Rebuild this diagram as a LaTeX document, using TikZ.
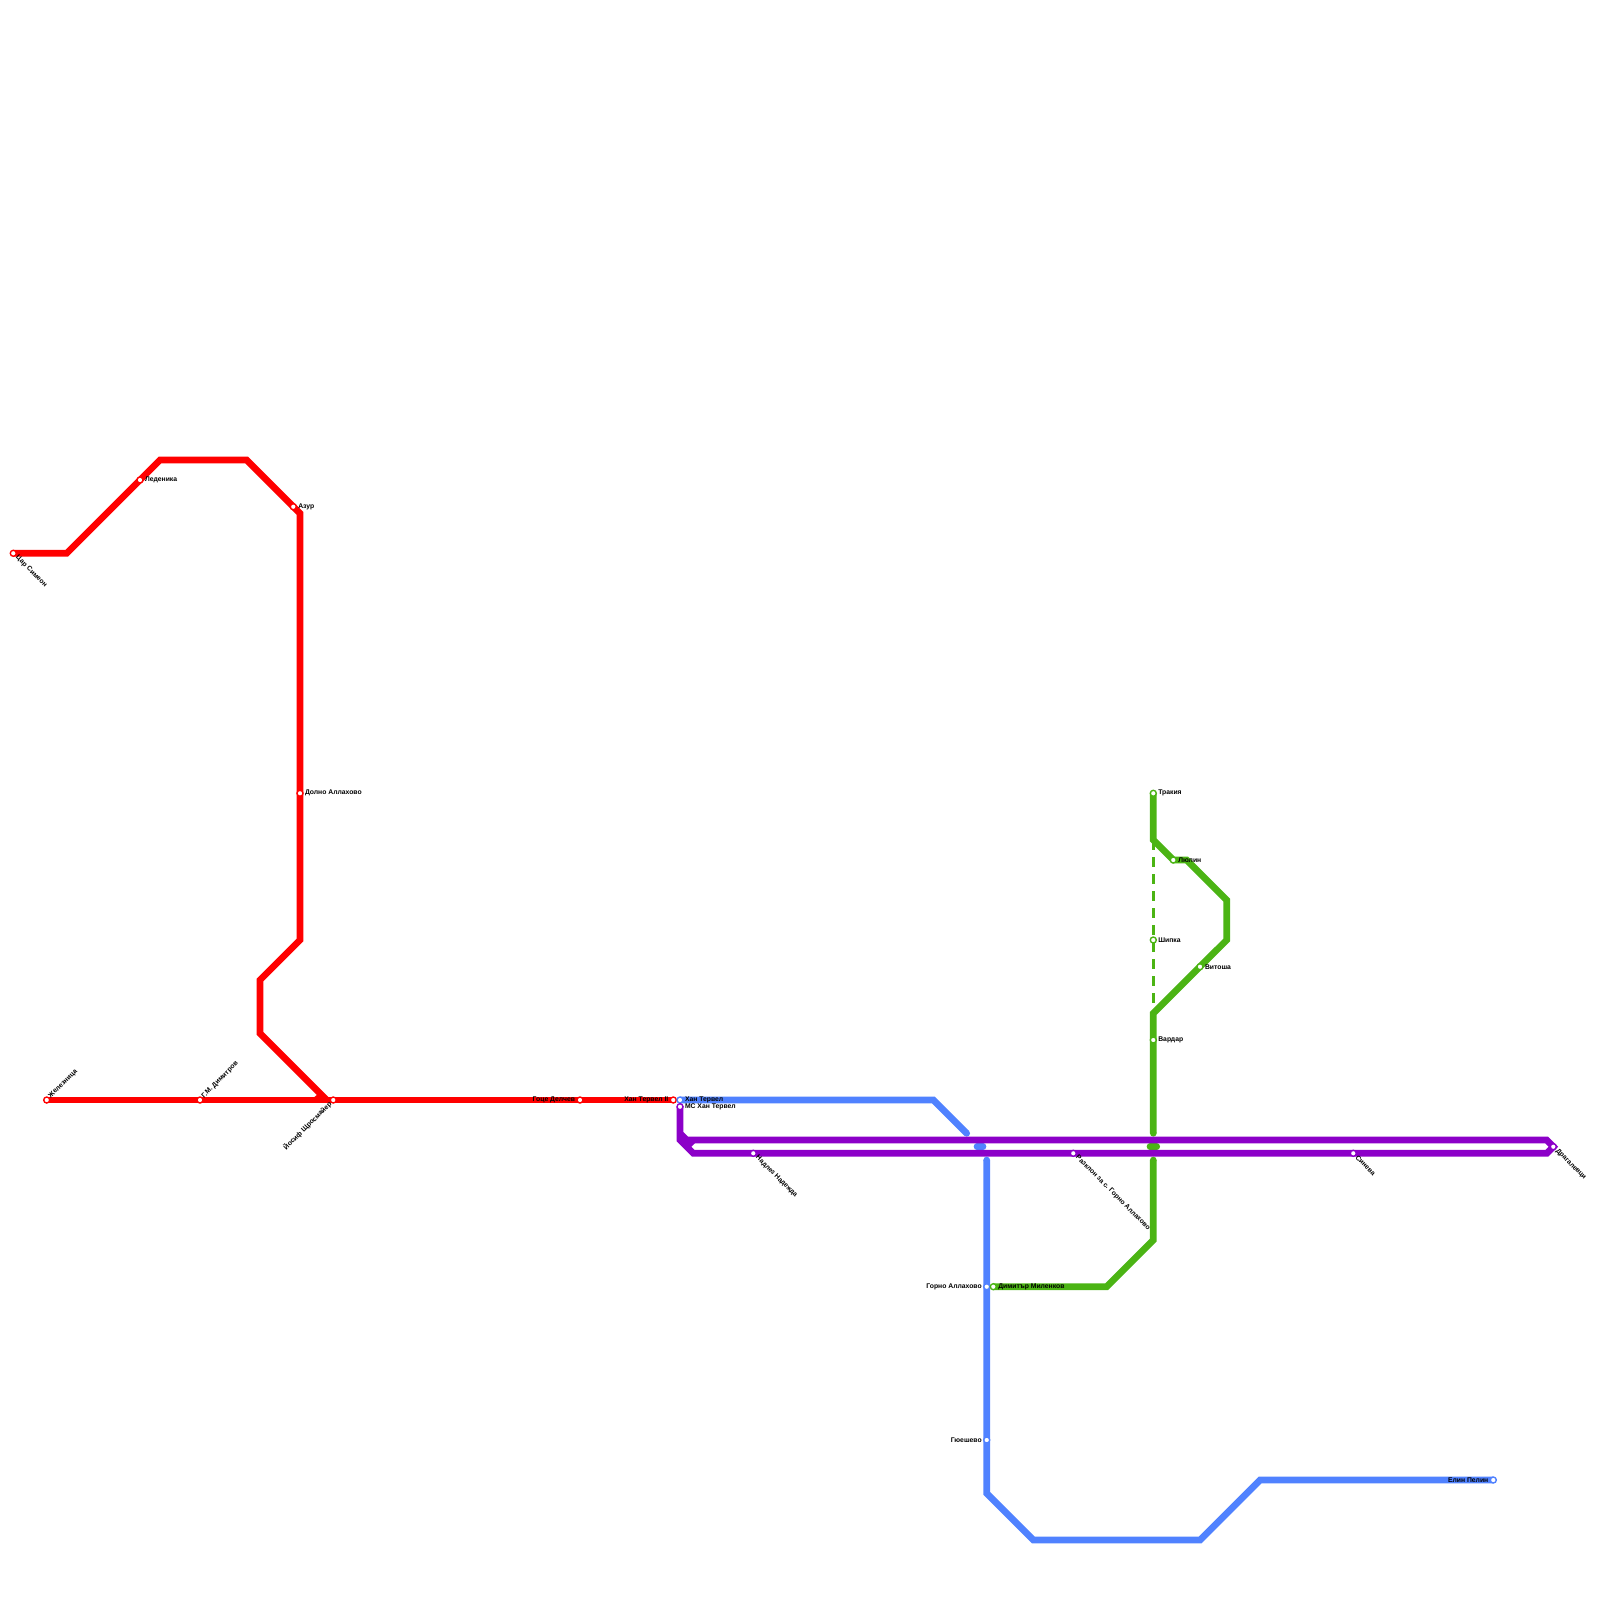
\documentclass[tikz,border=0pt]{standalone}
\usepackage{fontspec}
\setmainfont{Liberation Sans}
\definecolor{lred}{HTML}{FF0000}
\definecolor{lblue}{HTML}{5082FF}
\definecolor{lgreen}{HTML}{4BB414}
\definecolor{lpurple}{HTML}{8C00C8}
\tikzset{
  lineway/.style={line width=6.67pt,line join=miter,miter limit=10},
  roundend/.style={lineway,line cap=round},
  thinway/.style={line width=3.3pt,dash pattern=on 10pt off 7pt},
  stop/.style={circle,draw=#1,fill=white,line width=1.4pt,minimum size=6pt,inner sep=0pt,outer sep=0pt},
  lab/.style={font=\fontsize{6.8}{8}\selectfont\bfseries,text=black,inner sep=0pt,outer sep=0pt},
  labR/.style={lab,anchor=west},
  labL/.style={lab,anchor=east},
  labUp/.style={lab,anchor=west,rotate=45},
  labDown/.style={lab,anchor=west,rotate=-45},
  labUpL/.style={lab,anchor=east,rotate=45},
}
\begin{document}
\begin{tikzpicture}[x=1pt,y=-1pt]
\useasboundingbox (0,0) rectangle (1600,1600);
% stations
\coordinate (tsar) at (13.3,553.3);
\coordinate (ledenika) at (140,480);
\coordinate (azur) at (293.3,506.7);
\coordinate (dolno) at (300,793.3);
\coordinate (zhel) at (46.7,1100);
\coordinate (gmd) at (200,1100);
\coordinate (yosif) at (333.3,1100);
\coordinate (goce) at (580,1100);
\coordinate (tervelII) at (673.3,1100);
\coordinate (tervel) at (680,1100);
\coordinate (mctervel) at (680,1106.7);
\coordinate (nadlez) at (753.3,1153.3);
\coordinate (razklon) at (1073.3,1153.3);
\coordinate (sineva) at (1353.3,1153.3);
\coordinate (dragalevtsi) at (1553.3,1146.7);
\coordinate (gorno) at (986.7,1286.7);
\coordinate (gyueshevo) at (986.7,1440);
\coordinate (elin) at (1493.3,1480);
\coordinate (milenkov) at (993.3,1286.7);
\coordinate (trakia) at (1153.3,793.3);
\coordinate (lyulin) at (1173.3,860);
\coordinate (shipka) at (1153.3,940);
\coordinate (vitosha) at (1200,966.7);
\coordinate (vardar) at (1153.3,1040);
% red line
\coordinate (r1) at (66.7,553.3);
\coordinate (r2) at (160,460);
\coordinate (r3) at (246.7,460);
\coordinate (r4) at (300,513.3);
\coordinate (r5) at (300,940);
\coordinate (r6) at (260,980);
\coordinate (r7) at (260,1033.3);
\coordinate (r8) at (326.7,1100);
\coordinate (r9) at (316,1100);
\coordinate (r10) at (322,1095);
\draw[lineway,lred] (tsar) -- (r1) -- (r2) -- (r3) -- (r4) -- (r5) -- (r6) -- (r7) -- (r8);
\draw[lineway,lred] (zhel) -- (tervelII);
\draw[lineway,lred] (r9) -- (r10);
% blue line
\coordinate (b1) at (933.3,1100);
\coordinate (b2) at (966.7,1133.3);
\coordinate (b3) at (977,1146.7);
\coordinate (b4) at (983,1146.7);
\coordinate (b5) at (986.7,1160);
\coordinate (b6) at (986.7,1493.3);
\coordinate (b7) at (1033.3,1540);
\coordinate (b8) at (1200,1540);
\coordinate (b9) at (1260,1480);
\draw[lineway,lblue,line cap=butt] (tervel) -- (b1) -- (b2);
\fill[lblue] (b2) circle (3.33pt);
\draw[roundend,lblue] (b3) -- (b4);
\draw[lineway,lblue] (b5) -- (b6) -- (b7) -- (b8) -- (b9) -- (elin);
\fill[lblue] (b5) circle (3.33pt);
% green line
\coordinate (g1) at (1106.7,1286.7);
\coordinate (g2) at (1153.3,1240);
\coordinate (g3) at (1153.3,1160);
\coordinate (g4) at (1150,1146.7);
\coordinate (g5) at (1156.7,1146.7);
\coordinate (g6) at (1153.3,1133.3);
\coordinate (g7) at (1153.3,1013.3);
\coordinate (g8) at (1226.7,940);
\coordinate (g9) at (1226.7,900);
\coordinate (g10) at (1186.7,860);
\coordinate (g11) at (1153.3,840);
\draw[thinway,lgreen] (g11) -- (g7);
\draw[lineway,lgreen] (milenkov) -- (g1) -- (g2) -- (g3);
\fill[lgreen] (g3) circle (3.33pt);
\draw[roundend,lgreen] (g4) -- (g5);
\draw[lineway,lgreen] (g6) -- (g7) -- (g8) -- (g9) -- (g10) -- (lyulin) -- (g11) -- (trakia);
\fill[lgreen] (g6) circle (3.33pt);
% purple line
\coordinate (p1) at (680,1140);
\coordinate (p2) at (693.3,1153.3);
\coordinate (p3) at (1546.7,1153.3);
\coordinate (p4) at (1546.7,1140);
\coordinate (p5) at (686.7,1140);
\coordinate (p6) at (680,1133.3);
\coordinate (p7) at (693.3,1140);
\coordinate (p8) at (686.7,1146.7);
\draw[lineway,lpurple] (mctervel) -- (p1) -- (p2) -- (p3) -- (dragalevtsi) -- (p4) -- (p5) -- (p6);
\draw[lineway,lpurple] (p7) -- (p8);
% station markers
\foreach \s/\c in {tsar/lred,ledenika/lred,azur/lred,dolno/lred,zhel/lred,gmd/lred,yosif/lred,goce/lred,tervelII/lred,tervel/lblue,mctervel/lpurple,nadlez/lpurple,razklon/lpurple,sineva/lpurple,dragalevtsi/lpurple,gorno/lblue,gyueshevo/lblue,elin/lblue,milenkov/lgreen,trakia/lgreen,lyulin/lgreen,shipka/lgreen,vitosha/lgreen,vardar/lgreen}
  \node[stop=\c] (st\s) at (\s) {};
% labels
\node[labDown] (ltsar) at ([shift={(3.5,3.5)}]tsar) {Цар Симеон};
\node[labR] (lledenika) at ([xshift=5pt]ledenika) {Леденика};
\node[labR] (lazur) at ([xshift=5pt]azur) {Азур};
\node[labR] (ldolno) at ([xshift=5pt]dolno) {Долно Аллахово};
\node[labUp] (lzhel) at ([shift={(3,-3)}]zhel) {Железница};
\node[labUp] (lgmd) at ([shift={(3,-3)}]gmd) {Г.М. Димитров};
\node[labUpL] (lyosif) at ([shift={(-3,3)}]yosif) {Йосиф Щросмайер};
\node[labL] (lgoce) at ([xshift=-5pt]goce) {Гоце Делчев};
\node[labL] (ltervelII) at ([xshift=-5pt]tervelII) {Хан Тервел II};
\node[labR] (ltervel) at ([xshift=5pt]tervel) {Хан Тервел};
\node[labR] (lmctervel) at ([xshift=5pt]mctervel) {МС Хан Тервел};
\node[labDown] (lnadlez) at ([shift={(3.5,3.5)}]nadlez) {Надлез Надежда};
\node[labDown] (lrazklon) at ([shift={(3.5,3.5)}]razklon) {Разклон за с. Горно Аллахово};
\node[labDown] (lsineva) at ([shift={(3.5,3.5)}]sineva) {Синева};
\node[labDown] (ldragalevtsi) at ([shift={(3.5,3.5)}]dragalevtsi) {Драгалевци};
\node[labL] (lgorno) at ([xshift=-5pt]gorno) {Горно Аллахово};
\node[labL] (lgyueshevo) at ([xshift=-5pt]gyueshevo) {Гюешево};
\node[labL] (lelin) at ([xshift=-5pt]elin) {Елин Пелин};
\node[labR] (lmilenkov) at ([xshift=5pt]milenkov) {Димитър Миленков};
\node[labR] (ltrakia) at ([xshift=5pt]trakia) {Тракия};
\node[labR] (llyulin) at ([xshift=5pt]lyulin) {Люлин};
\node[labR] (lshipka) at ([xshift=5pt]shipka) {Шипка};
\node[labR] (lvitosha) at ([xshift=5pt]vitosha) {Витоша};
\node[labR] (lvardar) at ([xshift=5pt]vardar) {Вардар};
\end{tikzpicture}
\end{document}
